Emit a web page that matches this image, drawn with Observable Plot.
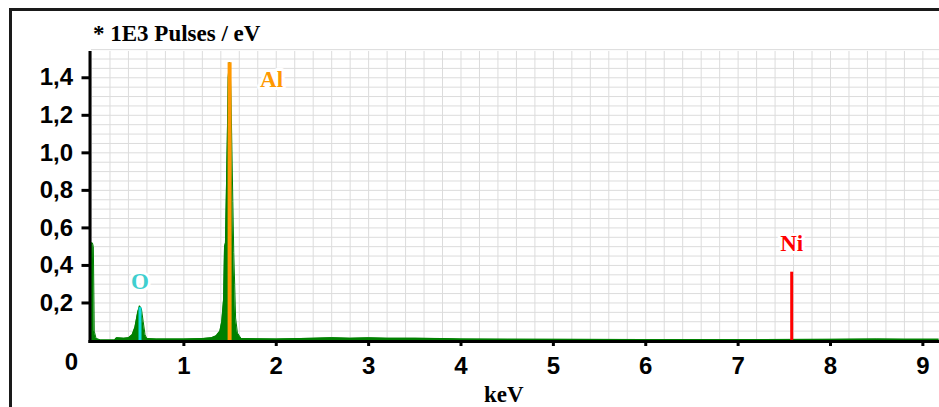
<!DOCTYPE html>
<html><head><meta charset="utf-8">
<script src="https://cdn.jsdelivr.net/npm/d3@7"></script>
<script src="https://cdn.jsdelivr.net/npm/@observablehq/plot@0.6"></script>
<style>
body{margin:0;background:#fff;}
#wrap{position:relative;width:939px;height:407px;overflow:hidden;background:#fff;}
#chart{position:absolute;left:0;top:0;}
#frame{position:absolute;left:9px;top:8px;width:1000px;height:500px;border-left:3px solid #1a1a1a;border-top:3px solid #1a1a1a;pointer-events:none;}
.lbl{position:absolute;font-family:"Liberation Serif","Times New Roman",serif;font-weight:bold;color:#000;white-space:nowrap;line-height:1;}
</style></head>
<body><div id="wrap"><div id="chart"></div><div id="frame"></div>
<div class="lbl" id="title" style="left:93px;top:22px;font-size:23px;">* 1E3 Pulses / eV</div>
<div class="lbl" id="xlabel" style="left:484px;top:383px;font-size:23px;">keV</div>
</div>
<script>
const spectrumKeV = [0.00,0.01,0.02,0.03,0.05,0.10,0.25,0.27,0.35,0.40,0.44,0.47,0.50,0.52,0.54,0.56,0.58,0.60,0.70,1.00,1.20,1.30,1.35,1.39,1.41,1.43,1.44,1.45,1.46,1.47,1.48,1.49,1.50,1.51,1.52,1.53,1.54,1.55,1.56,1.58,1.62,2.00,2.40,2.60,2.80,3.00,3.20,3.50,3.80,4.00,4.50,5.00,6.00,7.00,8.00,8.50,8.80,9.17];
const spectrumCounts = [0.52,0.52,0.50,0.05,0.01,0.003,0.003,0.015,0.012,0.015,0.03,0.07,0.15,0.185,0.17,0.10,0.03,0.01,0.008,0.008,0.01,0.015,0.025,0.05,0.10,0.22,0.50,0.52,0.79,1.07,1.40,1.48,1.48,1.30,1.02,0.74,0.47,0.30,0.12,0.04,0.01,0.008,0.012,0.015,0.012,0.014,0.012,0.012,0.010,0.008,0.007,0.006,0.005,0.005,0.006,0.008,0.007,0.007];
const elements = ["O","Al","Ni"];
const elementKeV = [0.525,1.495,7.58];
const elementHeight = [0.175,1.48,0.364];
const elementColor = ["#14dce6","#ff9900","#ff0000"];
const labelColor = ["#3fcfcf","#ff9900","#ff0000"];
const xTicks = [1,2,3,4,5,6,7,8,9];
const yTicks = [0.2,0.4,0.6,0.8,1.0,1.2,1.4];

const spectrum = spectrumKeV.map((k,i)=>({k, c: spectrumCounts[i]}));
const lines = elements.map((e,i)=>({e, k: elementKeV[i], h: elementHeight[i], color: elementColor[i], lc: labelColor[i]}));
const gridX = d3.range(0, 9.3, 0.2);
const gridY = d3.range(0, 1.56, 0.05);
const fmt = d => d.toFixed(1).replace(".", ",");
const serif = "'Liberation Serif', 'Times New Roman', serif";

const plot = Plot.plot({
  width: 939, height: 407,
  marginLeft: 91, marginRight: 0, marginTop: 51, marginBottom: 67,
  x: {type: "linear", domain: [0, 9.18], axis: null},
  y: {type: "linear", domain: [0, 1.54], axis: null},
  style: {fontFamily: "'Liberation Sans', Arial, sans-serif", background: "transparent"},
  marks: [
    Plot.ruleX(gridX, {x: d => d, stroke: "#dcdcdc", strokeWidth: 1}),
    Plot.ruleY(gridY, {y: d => d, stroke: "#dcdcdc", strokeWidth: 1}),
    Plot.areaY(spectrum, {x: "k", y: "c", fill: "#008000"}),
    Plot.lineY(spectrum, {x: "k", y: "c", stroke: "#008000", strokeWidth: 1}),
    Plot.ruleX(lines, {x: "k", y1: 0, y2: "h", stroke: "color", strokeWidth: d => d.e === "Al" ? 4 : 3}),
    Plot.text(lines.filter(d => d.e === "O"), {x: "k", y: "h", text: "e", fill: "lc", stroke: "white", strokeWidth: 6, dy: -26, fontSize: 23, fontWeight: "bold", fontFamily: serif}),
    Plot.text(lines.filter(d => d.e === "Al"), {x: "k", y: "h", text: "e", fill: "lc", stroke: "white", strokeWidth: 6, dx: 42, dy: 17, fontSize: 23, fontWeight: "bold", fontFamily: serif}),
    Plot.text(lines.filter(d => d.e === "Ni"), {x: "k", y: "h", text: "e", fill: "lc", stroke: "white", strokeWidth: 6, dy: -29, fontSize: 23, fontWeight: "bold", fontFamily: serif}),
    Plot.ruleY([0], {y: d => d, stroke: "#000", strokeWidth: 3, dy: 1, x1: -0.03, x2: 9.18}),
    Plot.ruleX([0], {x: d => d, stroke: "#000", strokeWidth: 3, dx: -1.5, y1: 0, y2: 1.54}),
    Plot.axisX(xTicks, {label: null, tickSize: 6, tickPadding: 10, strokeWidth: 3, fontSize: 24, fontWeight: "bold", fill: "#000"}),
    Plot.axisY(yTicks, {label: null, tickSize: 8, tickPadding: 9, tickFormat: fmt, strokeWidth: 3, fontSize: 24, fontWeight: "bold", fill: "#000", dx: -1.5}),
    Plot.text([0], {x: d => d, y: d => d, text: d => "0", dx: -20, dy: 22, fontSize: 24, fontWeight: "bold", fill: "#000"})
  ]
});
document.getElementById("chart").appendChild(plot);
</script>
</body></html>
